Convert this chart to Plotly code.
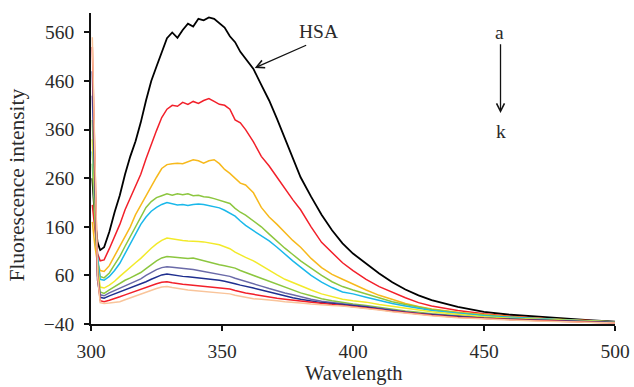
import plotly.graph_objects as go

# Wavelength grid (nm)
wavelength = [300.5, 301.5, 302.5, 303.5, 305, 307, 309, 311, 313, 315, 317, 319, 321, 323, 325, 327, 329,
              331, 333, 335, 337, 339, 341, 343, 345, 347, 349, 351, 353, 355, 357, 359, 362, 365, 368, 371,
              374, 377, 380, 384, 388, 392, 396, 400, 405, 410, 415, 420, 425, 430, 440, 450, 460, 470, 480,
              490, 500]

series_a = [260, 175, 128, 112, 118, 150, 190, 225, 268, 305, 336, 375, 420, 460, 490, 520, 548,
            560, 549, 565, 578, 572, 588, 585, 591, 588, 578, 570, 552, 540, 520, 505, 485, 452, 420, 382,
            342, 303, 262, 222, 185, 153, 126, 105, 84, 64, 46, 31, 19, 9, -5, -15, -21, -25, -28, -32, -35]
series_b = [205, 150, 105, 90, 92, 115, 140, 165, 195, 220, 245, 268, 300, 330, 358, 385, 402,
            410, 408, 416, 412, 418, 414, 420, 424, 418, 412, 410, 402, 380, 374, 360, 335, 305, 285, 262,
            238, 216, 195, 160, 128, 106, 86, 70, 52, 37, 25, 14, 4, -3, -12, -19, -24, -28, -31, -33, -37]
series_c = [170, 120, 85, 70, 68, 80, 100, 119, 140, 160, 185, 205, 225, 244, 262, 280, 288,
            290, 291, 290, 294, 298, 296, 291, 296, 298, 290, 278, 270, 260, 250, 246, 230, 200, 180, 165,
            148, 132, 118, 95, 76, 62, 52, 42, 30, 19, 10, 2, -4, -9, -16, -21, -25, -28, -31, -33, -36]
series_d = [290, 170, 90, 58, 55, 65, 82, 99, 120, 140, 162, 183, 200, 212, 220, 224, 228,
            225, 228, 226, 228, 224, 225, 222, 221, 218, 215, 212, 208, 198, 190, 184, 172, 160, 145, 130,
            116, 103, 90, 75, 60, 47, 37, 30, 22, 14, 6, 0, -5, -10, -17, -22, -26, -29, -31, -33, -36]
series_e = [315, 200, 100, 52, 50, 58, 70, 85, 105, 125, 145, 165, 180, 192, 200, 206, 210,
            208, 205, 206, 204, 206, 207, 206, 204, 202, 199, 194, 188, 182, 172, 163, 152, 142, 131, 118,
            103, 90, 77, 60, 46, 35, 26, 22, 15, 8, 2, -3, -8, -12, -18, -23, -26, -29, -31, -34, -36]
series_f = [340, 200, 80, 36, 34, 40, 48, 58, 68, 78, 86, 95, 106, 116, 125, 132, 137,
            135, 133, 132, 131, 131, 130, 129, 127, 125, 123, 119, 115, 108, 102, 97, 90, 80, 70, 61,
            52, 45, 38, 30, 22, 16, 11, 8, 5, 0, -4, -8, -12, -15, -20, -25, -28, -30, -32, -34, -36]
series_g = [380, 220, 70, 26, 23, 30, 37, 44, 50, 55, 60, 66, 74, 82, 90, 96, 99,
            98, 97, 96, 95, 96, 93, 91, 88, 85, 82, 80, 78, 75, 70, 66, 61, 54, 48, 42,
            36, 30, 24, 18, 12, 8, 4, 1, -2, -6, -10, -13, -16, -19, -23, -27, -29, -31, -33, -35, -37]
series_h = [430, 240, 60, 20, 18, 24, 29, 34, 39, 43, 48, 53, 60, 66, 72, 76, 78,
            77, 76, 75, 74, 72, 70, 68, 67, 65, 63, 61, 58, 54, 51, 48, 44, 38, 33, 28,
            24, 20, 16, 11, 7, 4, 2, -1, -4, -8, -12, -15, -18, -20, -24, -28, -30, -32, -34, -35, -37]
series_i = [480, 260, 50, 15, 13, 18, 22, 27, 31, 35, 38, 42, 47, 52, 57, 61, 63,
            61, 59, 58, 57, 56, 55, 54, 53, 51, 50, 48, 46, 43, 40, 38, 34, 30, 26, 21,
            18, 14, 11, 7, 4, 2, 0, -2, -5, -9, -13, -16, -19, -21, -25, -28, -30, -32, -34, -36, -37]
series_j = [530, 300, 60, 8, 6, 9, 12, 16, 20, 24, 27, 31, 35, 39, 43, 46, 47,
            45, 43, 42, 41, 40, 39, 38, 37, 36, 35, 34, 32, 29, 26, 24, 21, 18, 16, 13,
            11, 9, 7, 4, 2, 0, -2, -4, -7, -10, -14, -17, -20, -22, -26, -29, -31, -33, -35, -36, -38]
series_k = [550, 320, 60, 4, 2, 3, 4, 6, 10, 14, 18, 21, 25, 29, 33, 36, 37,
            35, 33, 31, 30, 29, 28, 27, 27, 26, 25, 24, 22, 19, 17, 14, 12, 11, 10, 8,
            6, 5, 3, 1, -1, -2, -3, -5, -8, -11, -15, -18, -21, -23, -27, -30, -32, -34, -35, -37, -38]

series_names = ["a", "b", "c", "d", "e", "f", "g", "h", "i", "j", "k"]
series_values = [series_a, series_b, series_c, series_d, series_e, series_f,
                 series_g, series_h, series_i, series_j, series_k]
series_colors = ["#000000", "#f2202a", "#f7b91c", "#8cc63f", "#1ab8ea", "#f2ea2a",
                 "#8cc63f", "#6a6aa8", "#1f2f8f", "#f2202a", "#f9c49a"]

x_ticks = [300, 350, 400, 450, 500]
y_ticks = [-40, 60, 160, 260, 360, 460, 560]

FONT = "Liberation Serif, Times New Roman, serif"
TXT = "#2a2a2a"

fig = go.Figure()
for name, vals, col in zip(series_names, series_values, series_colors):
    fig.add_trace(go.Scatter(x=wavelength, y=vals, mode="lines", name=name,
                             line=dict(color=col, width=1.8 if name == "a" else 1.5),
                             showlegend=False, hoverinfo="skip"))

axis_common = dict(showline=True, linecolor="#111111", linewidth=1.5, ticks="outside",
                   ticklen=5, tickwidth=1.5, tickcolor="#111111", showgrid=False, zeroline=False,
                   automargin=False, tickfont=dict(family=FONT, size=19.5, color=TXT))

fig.update_layout(
    width=634, height=387,
    margin=dict(l=91, r=19, t=13, b=63),
    paper_bgcolor="white", plot_bgcolor="white",
    xaxis=dict(range=[300, 500], tickvals=x_ticks, ticklabelstandoff=4, **axis_common),
    yaxis=dict(range=[-40, 600], tickvals=y_ticks, ticklabelstandoff=6, **axis_common),
    font=dict(family=FONT, color=TXT),
)

# axis titles
fig.add_annotation(text="Wavelength", xref="paper", yref="paper", x=0.5, y=-0.16,
                   yanchor="middle", xanchor="center", showarrow=False,
                   font=dict(family=FONT, size=20.5, color=TXT))
fig.add_annotation(text="Fluorescence intensity", xref="paper", yref="paper", x=-0.142, y=0.447,
                   xanchor="center", yanchor="middle", textangle=-90, showarrow=False,
                   font=dict(family=FONT, size=21.5, color=TXT))

# HSA label and arrow
fig.add_annotation(text="HSA", x=387, y=561, xref="x", yref="y", showarrow=False,
                   font=dict(family=FONT, size=19.5, color=TXT))
fig.add_annotation(text="", x=362.5, y=487, ax=382.7, ay=535, xref="x", yref="y",
                   axref="x", ayref="y", showarrow=True, arrowhead=5, arrowsize=1.2,
                   arrowwidth=1.3, arrowcolor="#111111")

# a -> k indicator
fig.add_annotation(text="a", x=456, y=559, xref="x", yref="y", showarrow=False,
                   font=dict(family=FONT, size=19.5, color=TXT))
fig.add_annotation(text="k", x=456.3, y=356, xref="x", yref="y", showarrow=False,
                   font=dict(family=FONT, size=19.5, color=TXT))
fig.add_annotation(text="", x=456.3, y=394, ax=456.3, ay=539, xref="x", yref="y",
                   axref="x", ayref="y", showarrow=True, arrowhead=5, arrowsize=1.2,
                   arrowwidth=1.3, arrowcolor="#111111")

fig.write_html("out.html", config={"displayModeBar": False},
               post_script="document.body.style.margin='0px';")
